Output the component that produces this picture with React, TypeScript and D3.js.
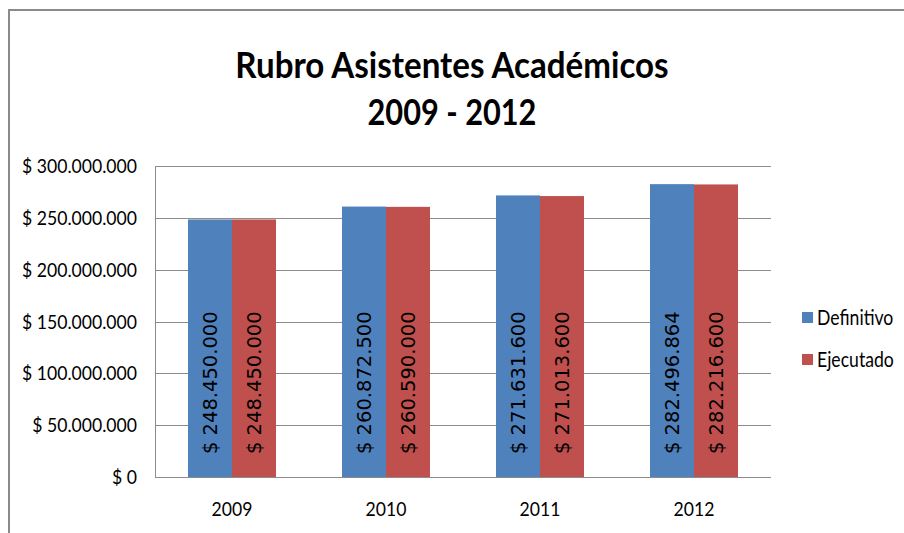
import React, { useRef, useEffect } from "react";
import * as d3 from "d3";

const years = ["2009", "2010", "2011", "2012"];
const series = ["Definitivo", "Ejecutado"];
const definitivo = [248450000, 260872500, 271631600, 282496864];
const ejecutado = [248450000, 260590000, 271013600, 282216600];
const yTicks = [0, 50000000, 100000000, 150000000, 200000000, 250000000, 300000000];
const titleLines = ["Rubro Asistentes Académicos", "2009 - 2012"];

const colors = ["#4F81BD", "#C0504D"];
// Calibri is not around; Lato squeezed horizontally gets close to it
const uiFont = "Lato, 'Open Sans', sans-serif";

// 1234567 -> "1.234.567"
const dots = (v: number) => String(Math.round(v)).replace(/\B(?=(\d{3})+(?!\d))/g, ".");

// narrow the glyphs of already rendered texts by factor k
function squeeze(sel: d3.Selection<SVGTextElement, any, any, any>, k: number | ((i: number) => number)) {
  sel.each(function (d, i) {
    const w = this.getComputedTextLength();
    const f = typeof k === "function" ? k(i) : k;
    d3.select(this).attr("textLength", w * f).attr("lengthAdjust", "spacingAndGlyphs");
  });
}

const App: React.FC = () => {
  const svgRef = useRef<SVGSVGElement | null>(null);
  const width = 904;
  const height = 533;

  useEffect(() => {
    const svg = d3.select(svgRef.current);
    svg.selectAll("*").remove();

    const plot = { left: 155, right: 771, top: 166, bottom: 477 };

    const x = d3
      .scaleBand<string>()
      .domain(years)
      .range([plot.left, plot.right])
      .paddingInner(66 / 154)
      .paddingOuter(33 / 154);
    const xs = d3.scaleBand<string>().domain(series).range([0, x.bandwidth()]);
    const y = d3.scaleLinear().domain([0, 300000000]).range([plot.bottom, plot.top]);

    // chart border (runs off the right/bottom edge)
    svg
      .append("rect")
      .attr("x", 9)
      .attr("y", 10)
      .attr("width", 1000)
      .attr("height", 1000)
      .attr("fill", "#fff")
      .attr("stroke", "#8a8a8a")
      .attr("stroke-width", 2);

    // title
    const title = svg
      .append("g")
      .selectAll("text")
      .data(titleLines)
      .enter()
      .append("text")
      .attr("x", 452)
      .attr("y", (d, i) => 78 + i * 47)
      .attr("text-anchor", "middle")
      .style("font-family", uiFont)
      .style("font-weight", "bold")
      .style("font-size", "37px")
      .style("fill", "#000")
      .text((d) => d);
    squeeze(title, (i) => (i === 0 ? 0.895 : 0.83));

    // gridlines
    svg
      .append("g")
      .selectAll("line")
      .data(yTicks)
      .enter()
      .append("line")
      .attr("x1", plot.left)
      .attr("x2", plot.right)
      .attr("y1", (d) => Math.round(y(d)) + 0.5)
      .attr("y2", (d) => Math.round(y(d)) + 0.5)
      .attr("stroke", "#8c8c8c")
      .attr("stroke-width", 1);

    // y tick labels
    const yLabels = svg
      .append("g")
      .selectAll("text")
      .data(yTicks)
      .enter()
      .append("text")
      .attr("x", 137)
      .attr("y", (d) => y(d))
      .attr("dy", "0.35em")
      .attr("text-anchor", "end")
      .style("font-family", uiFont)
      .style("font-size", "20px")
      .style("fill", "#000")
      .text((d) => `$ ${dots(d)}`);
    squeeze(yLabels, 0.88);

    // bars
    const groups = svg
      .append("g")
      .selectAll("g")
      .data(years)
      .enter()
      .append("g")
      .attr("transform", (d) => `translate(${x(d)},0)`);

    const cells = groups
      .selectAll("g")
      .data((d, i) => [
        { key: series[0], value: definitivo[i] },
        { key: series[1], value: ejecutado[i] },
      ])
      .enter()
      .append("g");

    cells
      .append("rect")
      .attr("x", (d) => xs(d.key) as number)
      .attr("y", (d) => y(d.value))
      .attr("width", xs.bandwidth())
      .attr("height", (d) => y(0) - y(d.value))
      .attr("fill", (d, i) => colors[i]);

    // value labels, inside base, rotated
    cells
      .append("text")
      .attr("transform", (d) => {
        const cx = (xs(d.key) as number) + xs.bandwidth() / 2;
        return `translate(${cx},${y(0) - 23}) rotate(-90)`;
      })
      .attr("dy", "0.35em")
      .attr("text-anchor", "start")
      .style("font-family", "'DejaVu Sans', Verdana, sans-serif")
      .style("font-size", "19.5px")
      .style("fill", "#000")
      .text((d) => `$ ${dots(d.value)}`);

    // axis lines
    svg
      .append("line")
      .attr("x1", plot.left + 0.5)
      .attr("x2", plot.left + 0.5)
      .attr("y1", plot.top)
      .attr("y2", plot.bottom)
      .attr("stroke", "#8c8c8c");
    svg
      .append("line")
      .attr("x1", plot.left)
      .attr("x2", plot.right)
      .attr("y1", plot.bottom + 0.5)
      .attr("y2", plot.bottom + 0.5)
      .attr("stroke", "#8c8c8c");

    // category labels
    const xLabels = svg
      .append("g")
      .selectAll("text")
      .data(years)
      .enter()
      .append("text")
      .attr("x", (d) => (x(d) as number) + x.bandwidth() / 2)
      .attr("y", 509)
      .attr("dy", "0.35em")
      .attr("text-anchor", "middle")
      .style("font-family", uiFont)
      .style("font-size", "20px")
      .style("fill", "#000")
      .text((d) => d);
    squeeze(xLabels, 0.88);

    // legend
    const legend = svg
      .append("g")
      .selectAll("g")
      .data(series)
      .enter()
      .append("g")
      .attr("transform", (d, i) => `translate(802,${318 + i * 42})`);
    legend
      .append("rect")
      .attr("x", 0)
      .attr("y", -6)
      .attr("width", 11)
      .attr("height", 11)
      .attr("fill", (d, i) => colors[i]);
    legend
      .append("text")
      .attr("transform", "translate(15,0) scale(0.84,1)")
      .attr("dy", "0.35em")
      .style("font-family", uiFont)
      .style("font-size", "21px")
      .style("fill", "#000")
      .text((d) => d);
  }, []);

  return (
    <svg
      ref={svgRef}
      width={width}
      height={height}
      style={{ position: "absolute", left: 0, top: 0 }}
    />
  );
};

export default App;
